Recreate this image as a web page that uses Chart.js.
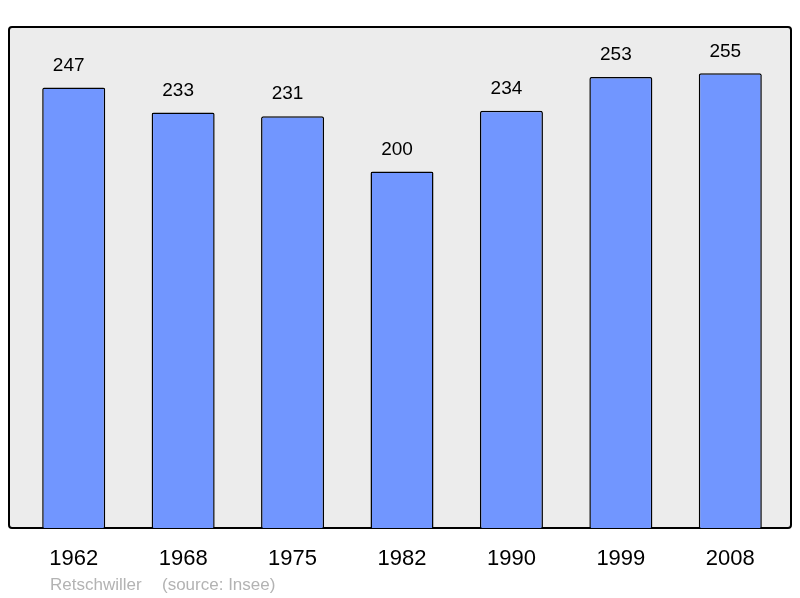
<!DOCTYPE html>
<html>
<head>
<meta charset="utf-8">
<script src="https://cdn.jsdelivr.net/npm/chart.js@4"></script>
<style>
  html, body { margin: 0; padding: 0; background: #fff; }
  #wrap { width: 800px; height: 598px; }
</style>
</head>
<body>
<div id="wrap"><canvas id="popChart"></canvas></div>
<script>
// données de population
const years = ['1962', '1968', '1975', '1982', '1990', '1999', '2008'];
const population = [247, 233, 231, 200, 234, 253, 255];
const yMax = 281;
const commune = 'Retschwiller';
const sourceText = '(source: Insee)';

// cadre gris derrière les barres
const framePlugin = {
    id: 'frame',
    beforeDraw(chart) {
        const c = chart.ctx;
        const a = chart.chartArea;
        c.save();
        c.beginPath();
        c.roundRect(a.left - 10, a.top, a.right - a.left + 16, a.bottom - a.top, 3);
        c.fillStyle = '#ececec';
        c.fill();
        c.lineWidth = 2;
        c.strokeStyle = '#000';
        c.stroke();
        c.restore();
    },
    afterDraw(chart) {
        const c = chart.ctx;
        c.save();
        c.font = '17px "Liberation Sans", Arial, sans-serif';
        c.fillStyle = '#b3b3b3';
        c.textBaseline = 'middle';
        c.fillText(commune, 50, 585);
        c.fillText(sourceText, 162, 585);
        c.restore();
    }
};

// valeurs au-dessus des barres (un peu décalées à gauche comme l'original)
const valueLabels = {
    id: 'valueLabels',
    afterDatasetsDraw(chart) {
        const c = chart.ctx;
        const meta = chart.getDatasetMeta(0);
        c.save();
        c.font = '19px "Liberation Sans", Arial, sans-serif';
        c.fillStyle = '#000';
        c.textAlign = 'center';
        c.textBaseline = 'middle';
        meta.data.forEach((bar, i) => {
            c.fillText(population[i], bar.x - 5, bar.y - 22);
        });
        c.restore();
    }
};

const ctx = document.getElementById('popChart').getContext('2d');
new Chart(ctx, {
    type: 'bar',
    data: {
        labels: years,
        datasets: [{
            data: population,
            backgroundColor: '#7196ff',
            borderColor: '#000',
            borderWidth: 1.5,
            borderRadius: 2,
            categoryPercentage: 1,
            barPercentage: 0.576
        }]
    },
    options: {
        responsive: true,
        maintainAspectRatio: false,
        animation: false,
        layout: { padding: { left: 19, right: 15, top: 27, bottom: 0 } },
        plugins: {
            legend: { display: false },
            tooltip: { enabled: false }
        },
        scales: {
            x: {
                grid: { display: false, drawTicks: false },
                border: { display: false },
                ticks: {
                    color: '#000',
                    padding: 18,
                    font: { family: '"Liberation Sans", Arial, sans-serif', size: 22 }
                },
                afterFit(scale) { scale.height = 70; }
            },
            y: {
                display: false,
                min: 0,
                max: yMax
            }
        }
    },
    plugins: [framePlugin, valueLabels]
});
</script>
</body>
</html>
